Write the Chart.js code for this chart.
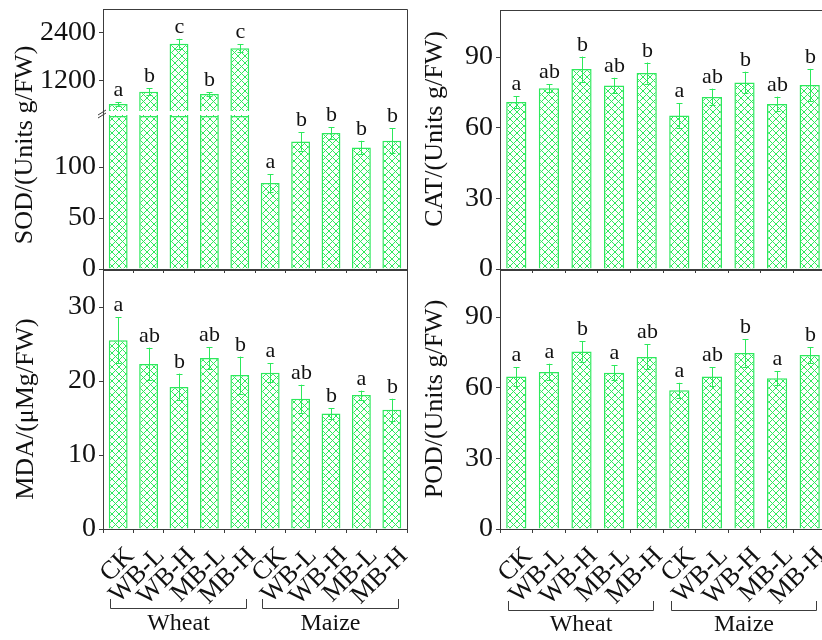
<!DOCTYPE html>
<html><head><meta charset="utf-8">
<script src="https://cdn.jsdelivr.net/npm/chart.js@4"></script>
<style>
html,body{margin:0;padding:0;background:#fff;width:822px;height:640px;overflow:hidden;position:relative}
canvas{position:absolute}
</style></head><body>
<canvas id="sod" width="412" height="290" style="left:0;top:0"></canvas>
<canvas id="cat" width="420" height="290" style="left:412px;top:0"></canvas>
<canvas id="mda" width="412" height="378" style="left:0;top:262px"></canvas>
<canvas id="pod" width="420" height="378" style="left:412px;top:262px"></canvas>
<script>
// ---- data ----
const categories = ['CK','WB-L','WB-H','MB-L','MB-H','CK','WB-L','WB-H','MB-L','MB-H'];
const groups = ['Wheat','Maize'];

const sodMean = [602, 913, 2123, 855, 2011, 84.3, 125.1, 133.3, 119.2, 125.8];
const sodErr  = [50, 90, 125, 50, 100, 8.5, 9, 5.5, 6.5, 12];
const sodLetters = ['a','b','c','b','c','a','b','b','b','b'];

const catMean = [70.9, 76.8, 84.9, 77.9, 83.2, 65.2, 73.1, 79.2, 70.1, 78.1];
const catErr  = [2.5, 1.7, 5.3, 3.3, 4.5, 5.2, 3.5, 4.6, 3.1, 6.9];
const catLetters = ['a','ab','b','ab','b','a','ab','b','ab','b'];

const mdaMean = [25.5, 22.3, 19.2, 23.1, 20.8, 21.1, 17.6, 15.6, 18.1, 16.1];
const mdaErr  = [3.1, 2.2, 1.8, 1.5, 2.5, 1.3, 1.9, 0.7, 0.6, 1.5];
const mdaLetters = ['a','ab','b','ab','b','a','ab','b','a','b'];

const podMean = [64.8, 66.7, 75.4, 66.4, 73.1, 58.9, 64.8, 74.8, 64.0, 73.9];
const podErr  = [4, 3.5, 4.3, 3.2, 5.3, 3.2, 4, 5.9, 2.9, 3.4];
const podLetters = ['a','a','b','a','ab','a','ab','b','a','b'];

const sodLowTicks = [0, 50, 100];
const sodHighTicks = [1200, 2400];
const catTicks = [0, 30, 60, 90];
const mdaTicks = [0, 10, 20, 30];
const podTicks = [0, 30, 60, 90];

// ---- style ----
const FONT = "'Liberation Serif','Times New Roman',serif";
const GREEN = '#2de95c';
const AXIS = '#3c3c3c';
Chart.defaults.font.family = FONT;
Chart.defaults.color = '#111';

function hatch(){
  const n = 7;
  const c = document.createElement('canvas'); c.width = n; c.height = n;
  const g = c.getContext('2d');
  g.fillStyle = '#fdfffd'; g.fillRect(0,0,n,n);
  g.strokeStyle = GREEN; g.lineWidth = 1;
  g.beginPath(); g.moveTo(0,0); g.lineTo(n,n); g.moveTo(n,0); g.lineTo(0,n); g.stroke();
  return g.createPattern(c,'repeat');
}
const PATTERN = hatch();

const panels = {
  sod: {mean: sodMean, err: sodErr, letters: sodLetters, axis: i => sodMean[i] > 300 ? 'yHi' : 'yLo',
        title: 'SOD/(Units g/FW)', tx: 25, ty: 145, brk: true},
  cat: {mean: catMean, err: catErr, letters: catLetters, axis: () => 'y',
        title: 'CAT/(Units g/FW)', tx: 23, ty: 129},
  mda: {mean: mdaMean, err: mdaErr, letters: mdaLetters, axis: () => 'y',
        title: 'MDA/(\u03BCMg/FW)', tx: 26, ty: 147, bracket: {y: 346, ty: 368}},
  pod: {mean: podMean, err: podErr, letters: podLetters, axis: () => 'y',
        title: 'POD/(Units g/FW)', tx: 23, ty: 137, bracket: {y: 348, ty: 369}}
};

const decor = {
  id: 'decor',
  afterDatasetsDraw(chart){
    const p = panels[chart.canvas.id];
    const ctx = chart.ctx, ca = chart.chartArea, xs = chart.scales.x;
    ctx.save();
    // frame top and right
    ctx.strokeStyle = AXIS; ctx.lineWidth = 1;
    ctx.beginPath();
    ctx.moveTo(ca.left, Math.round(ca.top)+0.5);
    ctx.lineTo(Math.round(ca.right)+0.5, Math.round(ca.top)+0.5);
    ctx.lineTo(Math.round(ca.right)+0.5, ca.bottom);
    ctx.stroke();
    // axis break
    if (p.brk){
      const yb = chart.scales.yLo.top;
      ctx.fillStyle = '#fff';
      ctx.fillRect(ca.left+1, yb-5, ca.right-ca.left-2, 4);
      ctx.strokeStyle = AXIS;
      ctx.beginPath();
      ctx.moveTo(ca.left-5, yb-1); ctx.lineTo(ca.left+3, yb-6);
      ctx.moveTo(ca.left-5, yb+2); ctx.lineTo(ca.left+3, yb-3);
      ctx.stroke();
    }
    // error bars and letters
    ctx.strokeStyle = GREEN; ctx.lineWidth = 1;
    ctx.fillStyle = '#111';
    ctx.font = '22px ' + FONT; ctx.textAlign = 'center'; ctx.textBaseline = 'alphabetic';
    p.mean.forEach((m, i) => {
      const ys = chart.scales[p.axis(i)];
      const cx = Math.round(xs.getPixelForValue(i)) + 0.5;
      const yt = ys.getPixelForValue(m + p.err[i]);
      const yb = ys.getPixelForValue(m - p.err[i]);
      ctx.beginPath();
      ctx.moveTo(cx, yt); ctx.lineTo(cx, yb);
      ctx.moveTo(cx-3, Math.round(yt)+0.5); ctx.lineTo(cx+3, Math.round(yt)+0.5);
      ctx.moveTo(cx-3, Math.round(yb)+0.5); ctx.lineTo(cx+3, Math.round(yb)+0.5);
      ctx.stroke();
      ctx.fillText(p.letters[i], cx, yt - 6);
    });
    // y title
    ctx.save();
    ctx.translate(p.tx, p.ty); ctx.rotate(-Math.PI/2);
    ctx.font = '26px ' + FONT; ctx.textBaseline = 'middle'; ctx.textAlign = 'center';
    ctx.fillText(p.title, 0, 0);
    ctx.restore();
    // group brackets
    if (p.bracket){
      const b = p.bracket;
      ctx.strokeStyle = AXIS; ctx.lineWidth = 1;
      ctx.font = '24px ' + FONT; ctx.textAlign = 'center'; ctx.textBaseline = 'alphabetic';
      groups.forEach((g, k) => {
        const x1 = Math.round(xs.getPixelForValue(k*5)) - 8 + 0.5;
        const x2 = Math.round(xs.getPixelForValue(k*5+4)) + 6 + 0.5;
        ctx.beginPath();
        ctx.moveTo(x1, b.y-9); ctx.lineTo(x1, b.y+0.5); ctx.lineTo(x2, b.y+0.5); ctx.lineTo(x2, b.y-9);
        ctx.stroke();
        ctx.fillText(g, (x1+x2)/2, b.ty);
      });
    }
    ctx.restore();
  }
};

function gridOpts(){
  return {display: true, drawOnChartArea: false, drawTicks: true, tickLength: 4, tickColor: AXIS};
}
function yAxis(min, max, ticks, width, extra){
  return Object.assign({
    type: 'linear', position: 'left', min: min, max: max,
    grid: gridOpts(), border: {display: true, color: AXIS, width: 1},
    ticks: {font: {size: 28}, color: '#111', padding: 3, callback: v => String(v)},
    afterBuildTicks: s => { s.ticks = ticks.map(v => ({value: v})); },
    afterFit: s => { s.width = width; s.paddingTop = 0; s.paddingBottom = 0; }
  }, extra || {});
}
function xAxis(showLabels, height){
  return {
    type: 'category', offset: true,
    grid: gridOpts(), border: {display: true, color: AXIS, width: 1},
    ticks: showLabels ? {display: true, font: {size: 26}, color: '#111', minRotation: 45, maxRotation: 45,
                          autoSkip: false, padding: 8, labelOffset: 12}
                      : {display: false},
    afterFit: s => { s.height = height; s.paddingLeft = 0; s.paddingRight = 0; }
  };
}
function barDs(data, axisId){
  return {data: data, yAxisID: axisId, backgroundColor: PATTERN, borderColor: GREEN, borderWidth: 1.5,
          barPercentage: 0.62, categoryPercentage: 1, grouped: false, borderSkipped: 'start'};
}
function baseOpts(padding, scales){
  return {responsive: false, animation: false, devicePixelRatio: 1,
          layout: {padding: padding},
          plugins: {legend: {display: false}, tooltip: {enabled: false}},
          scales: scales};
}

// SOD (broken axis: two stacked y scales)
new Chart(document.getElementById('sod'), {
  type: 'bar',
  data: {labels: categories, datasets: [
    barDs(sodMean.map(v => v > 300 ? [300, v] : null), 'yHi'),
    barDs(sodMean.map(v => [0, Math.min(v, 150)]), 'yLo')
  ]},
  options: baseOpts({left: 0, top: 9, right: 5, bottom: 0}, {
    x: xAxis(false, 21),
    yLo: yAxis(0, 150, sodLowTicks, 103, {stack: 'sod', stackWeight: 153}),
    yHi: yAxis(300, 3000, sodHighTicks, 103, {stack: 'sod', stackWeight: 107})
  }),
  plugins: [decor]
});

new Chart(document.getElementById('cat'), {
  type: 'bar',
  data: {labels: categories, datasets: [barDs(catMean, 'y')]},
  options: baseOpts({left: 0, top: 10, right: 6, bottom: 0}, {
    x: xAxis(false, 21), y: yAxis(0, 110, catTicks, 88)
  }),
  plugins: [decor]
});

new Chart(document.getElementById('mda'), {
  type: 'bar',
  data: {labels: categories, datasets: [barDs(mdaMean, 'y')]},
  options: baseOpts({left: 0, top: 8, right: 5, bottom: 0}, {
    x: xAxis(true, 111), y: yAxis(0, 35, mdaTicks, 103)
  }),
  plugins: [decor]
});

new Chart(document.getElementById('pod'), {
  type: 'bar',
  data: {labels: categories, datasets: [barDs(podMean, 'y')]},
  options: baseOpts({left: 0, top: 8, right: 6, bottom: 0}, {
    x: xAxis(true, 111), y: yAxis(0, 110, podTicks, 88)
  }),
  plugins: [decor]
});
</script>
</body></html>
